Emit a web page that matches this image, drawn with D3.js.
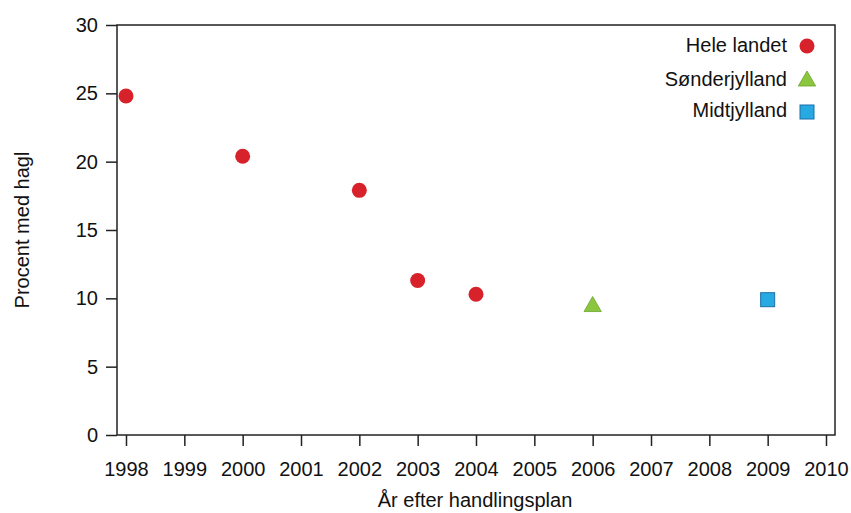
<!DOCTYPE html>
<html><head><meta charset="utf-8">
<script src="https://cdn.jsdelivr.net/npm/d3@7"></script>
<style>body{margin:0;background:#fff;} text{font-family:"Liberation Sans",Arial,sans-serif;fill:#111;}</style>
</head><body>
<svg id="c" width="851" height="513"></svg>
<script>
const years = [1998,1999,2000,2001,2002,2003,2004,2005,2006,2007,2008,2009,2010];
const yTicks = [0,5,10,15,20,25,30];
const heleYears = [1998,2000,2002,2003,2004];
const heleValues = [24.8,20.4,17.9,11.3,10.3];
const sonderYears = [2006];
const sonderValues = [9.4];
const midtYears = [2009];
const midtValues = [9.9];
const legendLabels = ["Hele landet","Sønderjylland","Midtjylland"];

const svg = d3.select("#c");
const L=117, R=835, T=25, B=435;
const x = d3.scaleLinear().domain([1998,2010]).range([126,826]);
const y = d3.scaleLinear().domain([0,30]).range([B,T]);
const FS = 20;

svg.append("rect").attr("x",L).attr("y",T).attr("width",R-L).attr("height",B-T)
  .attr("fill","none").attr("stroke","#222").attr("stroke-width",1.5);

const xa = svg.append("g").attr("transform",`translate(0,${B})`)
  .call(d3.axisBottom(x).tickValues(years).tickFormat(d3.format("d")).tickSize(11).tickPadding(16));
xa.select(".domain").remove();
xa.selectAll("line").attr("stroke","#222").attr("stroke-width",1.5);
xa.selectAll("text").attr("font-size",FS).attr("fill","#111").attr("font-family","Liberation Sans, Arial, sans-serif");

const ya = svg.append("g").attr("transform",`translate(${L},0)`)
  .call(d3.axisLeft(y).tickValues(yTicks).tickSize(11).tickPadding(8));
ya.select(".domain").remove();
ya.selectAll("line").attr("stroke","#222").attr("stroke-width",1.5);
ya.selectAll("text").attr("font-size",FS).attr("fill","#111").attr("font-family","Liberation Sans, Arial, sans-serif");

svg.append("text").attr("x",475).attr("y",507).attr("text-anchor","middle")
  .attr("font-size",FS).text("År efter handlingsplan");
svg.append("text").attr("transform","translate(29,230) rotate(-90)").attr("text-anchor","middle")
  .attr("font-size",FS).text("Procent med hagl");

const red="#d7222b", green="#8cc63e", blue="#27a9e1";
svg.selectAll(".hele").data(heleYears).enter().append("circle")
  .attr("cx",d=>x(d)).attr("cy",(d,i)=>y(heleValues[i])).attr("r",7.5).attr("fill",red);
const tri = d3.symbol().type(d3.symbolTriangle).size(130);
svg.selectAll(".son").data(sonderYears).enter().append("path")
  .attr("d",tri).attr("transform",(d,i)=>`translate(${x(d)},${y(sonderValues[i])})`)
  .attr("fill",green).attr("stroke","#6aa52e").attr("stroke-width",0.8);
svg.selectAll(".mid").data(midtYears).enter().append("rect")
  .attr("x",d=>x(d)-7).attr("y",(d,i)=>y(midtValues[i])-7).attr("width",14).attr("height",14)
  .attr("fill",blue).attr("stroke","#1a6fa8").attr("stroke-width",1);

const ly=[46,80,112];
const lb=[52,86,117];
legendLabels.forEach((t,i)=>{
  svg.append("text").attr("x",787).attr("y",lb[i]).attr("text-anchor","end").attr("font-size",FS).text(t);
});
svg.append("circle").attr("cx",807).attr("cy",ly[0]).attr("r",7.5).attr("fill",red);
svg.append("path").attr("d",tri).attr("transform",`translate(807,${ly[1]+1})`).attr("fill",green).attr("stroke","#6aa52e").attr("stroke-width",0.8);
svg.append("rect").attr("x",800).attr("y",ly[2]-7).attr("width",14).attr("height",14).attr("fill",blue).attr("stroke","#1a6fa8");
</script>
</body></html>
